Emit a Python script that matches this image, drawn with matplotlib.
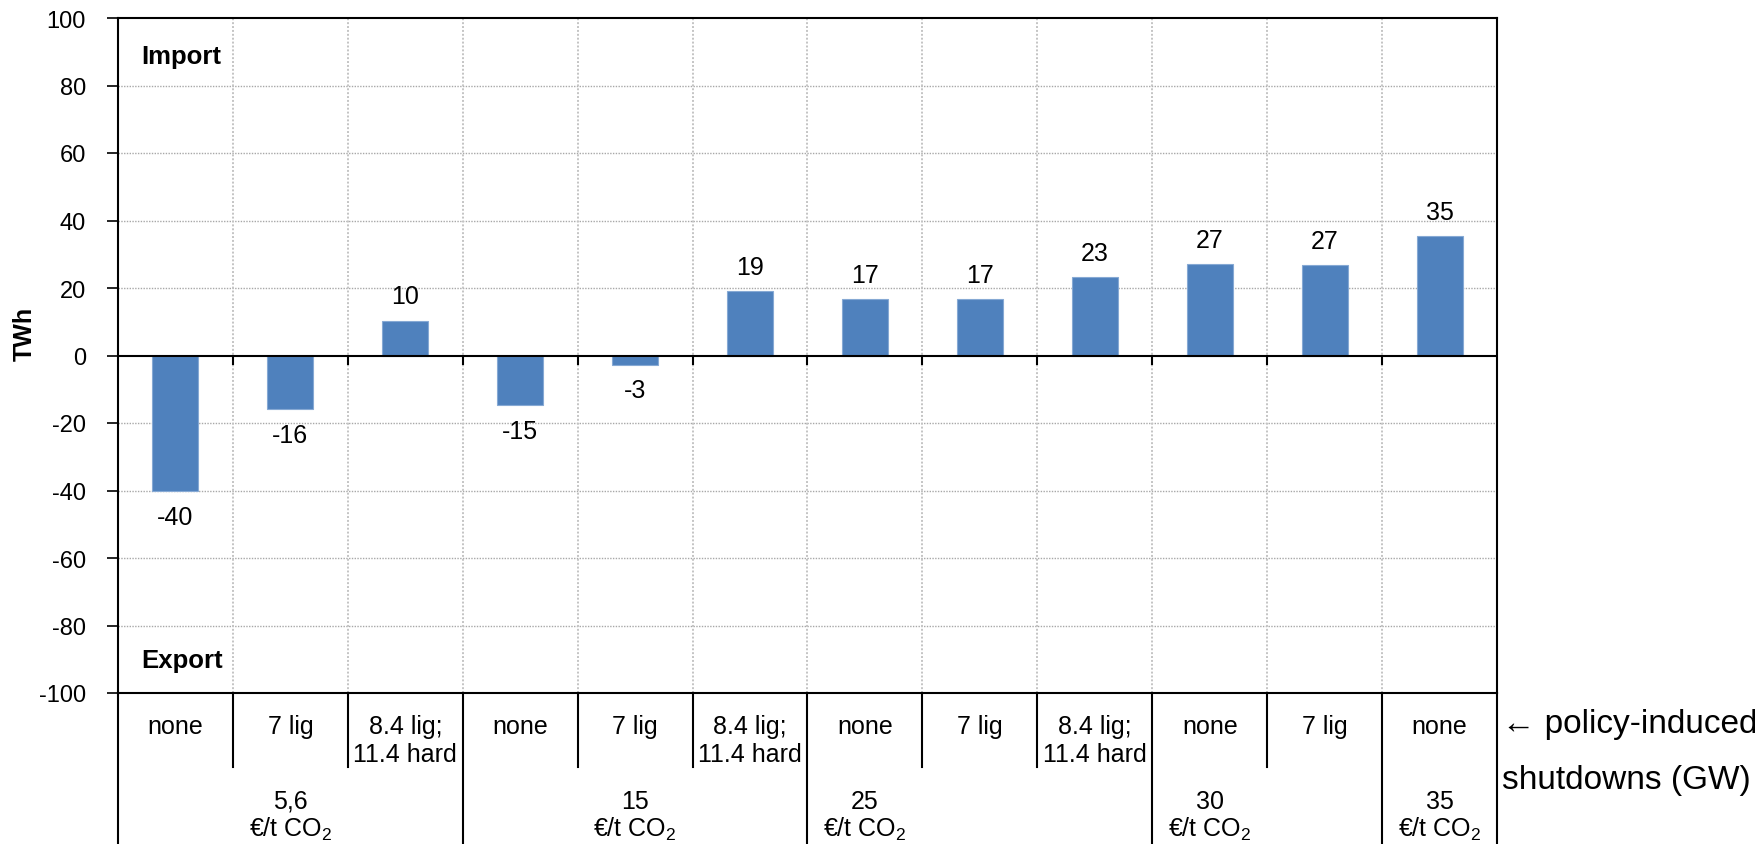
import matplotlib
matplotlib.use("Agg")
import matplotlib.pyplot as plt
from matplotlib.transforms import blended_transform_factory
import numpy as np

plt.rcParams['font.family'] = ['Liberation Sans', 'DejaVu Sans']
plt.rcParams['mathtext.fontset'] = 'custom'
plt.rcParams['mathtext.rm'] = 'Liberation Sans'

# ---- data ----
shutdowns = ["none", "7 lig", "8.4 lig;\n11.4 hard", "none", "7 lig", "8.4 lig;\n11.4 hard",
             "none", "7 lig", "8.4 lig;\n11.4 hard", "none", "7 lig", "none"]
values = [-40.2, -15.9, 10.3, -14.8, -2.7, 19.1, 16.7, 16.7, 23.3, 27.1, 26.8, 35.4]
co2_prices = ["5,6", "15", "25", "30", "35"]
group_sizes = [3, 3, 3, 2, 1]
group_label_at = [1, 4, 6, 9, 11]   # category index under which the price label sits
yticks = [-100, -80, -60, -40, -20, 0, 20, 40, 60, 80, 100]

W, H = 1756, 845
L, R, T, B = 118, 1497, 19, 694
fig = plt.figure(figsize=(W / 100, H / 100), dpi=100)
ax = fig.add_axes([L / W, 1 - B / H, (R - L) / W, (B - T) / H])

FS = 18
n = len(values)
x = np.arange(n)
bar_color = '#4F81BD'
ax.bar(x, values, width=0.4, color=bar_color, edgecolor='#86A9D4', linewidth=0.8, zorder=3)

ax.set_xlim(-0.5, n - 0.5)
ax.set_ylim(-100, 100)
ax.set_yticks(yticks)
ax.set_yticklabels([str(v) for v in yticks], fontsize=17)
ax.tick_params(axis='y', direction='out', length=8, width=1.2, pad=15)
ax.set_xticks([])

# grid
for v in yticks:
    if v != 0 and abs(v) != 100:
        ax.axhline(v, color='#a8a8a8', lw=1.0, ls=(0, (1, 1)), zorder=1)
for b in np.arange(n - 1) + 0.5:
    ax.axvline(b, color='#c4c4c4', lw=1.4, ls=(0, (1, 1)), zorder=1)

# zero line with ticks
ax.axhline(0, color='black', lw=1.5, zorder=4)
tr_px = blended_transform_factory(ax.transData, fig.transFigure)


def fy(px):
    return 1 - px / H


zero_y_px = B - (0 + 100) / 200 * (B - T)
for b in np.arange(n - 1) + 0.5:
    ax.plot([b, b], [fy(zero_y_px), fy(zero_y_px + 8)], transform=tr_px,
            color='black', lw=1.5, clip_on=False, zorder=4)

for s in ['top', 'right', 'left', 'bottom']:
    ax.spines[s].set_color('black')
    ax.spines[s].set_linewidth(1.5)

# data labels
for xi, v in zip(x, values):
    lab = f"{int(np.sign(v) * np.floor(abs(v) + 0.5)):d}"
    off = 17.5 if v >= 0 else -18.5
    ax.annotate(lab, (xi, v), xytext=(0, off), textcoords='offset points',
                ha='center', va='center', fontsize=FS)

fig.text(141 / W, fy(57), "Import", fontsize=18.5, fontweight='bold', ha='left', va='center')
fig.text(141 / W, fy(661), "Export", fontsize=18.5, fontweight='bold', ha='left', va='center')

ax.set_ylabel("TWh", fontsize=FS, fontweight='bold', va='center')
ax.yaxis.set_label_coords((25 - L) / (R - L), (B - 334) / (B - T))

# category table below
row1_bottom = 768
group_starts = np.cumsum([0] + group_sizes[:-1])
group_bounds = set(int(g) for g in group_starts) | {n}
for i in range(n + 1):
    b = i - 0.5
    bottom = H if i in group_bounds else row1_bottom
    ax.plot([b, b], [fy(B), fy(bottom)], transform=tr_px, color='black', lw=1.5,
            clip_on=False)

for xi, lab in zip(x, shutdowns):
    for k, line in enumerate(lab.split("\n")):
        ax.text(xi, fy(734 + 28 * k), line, transform=tr_px, ha='center', va='baseline',
                fontsize=FS)

for price, pos in zip(co2_prices, group_label_at):
    ax.text(pos, fy(809), price, transform=tr_px, ha='center', va='baseline', fontsize=FS)
    ax.text(pos, fy(837), r"€/t CO$_\mathregular{2}$", transform=tr_px, ha='center',
            va='baseline', fontsize=FS)

fig.text(1502 / W, fy(733), "← policy-induced", ha='left', va='baseline', fontsize=24)
fig.text(1502 / W, fy(789), "shutdowns (GW)", ha='left', va='baseline', fontsize=24)

fig.savefig("out.png", dpi=100)
